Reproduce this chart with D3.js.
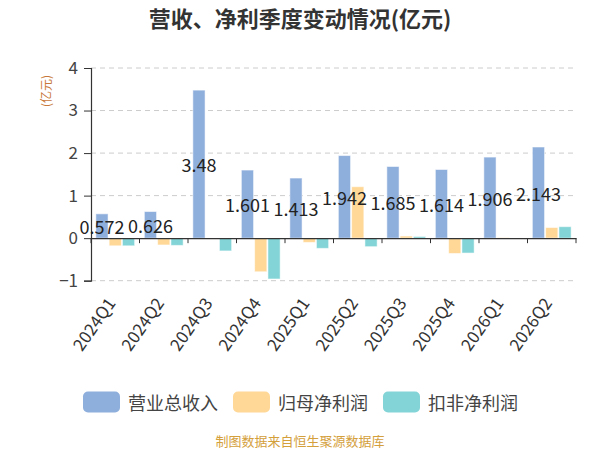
<!DOCTYPE html>
<html>
<head>
<meta charset="utf-8">
<script src="https://cdn.jsdelivr.net/npm/d3@7"></script>
<style>
  body { margin: 0; background: #fff; }
  svg { display: block; font-family: "Noto Sans CJK SC", "Noto Sans", sans-serif; }
</style>
</head>
<body>
<svg id="chart"></svg>
<script>
// Quarterly revenue / net profit bar chart

const WIDTH = 600;
const HEIGHT = 450;

const quarters = ["2024Q1", "2024Q2", "2024Q3", "2024Q4", "2025Q1", "2025Q2", "2025Q3", "2025Q4", "2026Q1", "2026Q2"];
const seriesNames = ["营业总收入", "归母净利润", "扣非净利润"];
const revenue = [0.572, 0.626, 3.48, 1.601, 1.413, 1.942, 1.685, 1.614, 1.906, 2.143];
const netProfit = [-0.18, -0.16, -0.02, -0.79, -0.10, 1.21, 0.05, -0.36, 0.01, 0.25];
const deductedProfit = [-0.18, -0.17, -0.30, -0.96, -0.24, -0.20, 0.04, -0.35, 0.003, 0.27];
const yTicks = [-1, 0, 1, 2, 3, 4];

const seriesValues = [revenue, netProfit, deductedProfit];
const COLORS = ["#8eaedc", "#ffd898", "#83d4d7"];

const margin = { left: 91, right: 24, top: 68, bottom: 169 };

const svg = d3.select("#chart")
    .attr("width", WIDTH)
    .attr("height", HEIGHT);

const x = d3.scaleBand()
    .domain(quarters)
    .range([margin.left, WIDTH - margin.right])
    .paddingInner(0.2)
    .paddingOuter(0.1);

const xInner = d3.scaleBand()
    .domain(d3.range(seriesNames.length))
    .range([0, x.bandwidth()])
    .paddingInner(0.08);

const y = d3.scaleLinear()
    .domain([-1, 4])
    .range([280.7, margin.top]);

// Title
svg.append("text")
    .attr("x", WIDTH / 2)
    .attr("y", 17)
    .attr("text-anchor", "middle")
    .attr("dominant-baseline", "central")
    .attr("font-size", "22px")
    .attr("font-weight", "bold")
    .attr("fill", "#333")
    .text("营收、净利季度变动情况(亿元)");

// Y axis name
svg.append("text")
    .attr("transform", "translate(45, 91) rotate(-90)")
    .attr("text-anchor", "middle")
    .attr("dominant-baseline", "central")
    .attr("font-size", "12px")
    .attr("fill", "#c8783a")
    .text("(亿元)");

// Grid lines
svg.append("g")
    .selectAll("line")
    .data(yTicks.filter(d => d !== 0))
    .join("line")
    .attr("x1", x.range()[0])
    .attr("x2", x.range()[1])
    .attr("y1", d => y(d))
    .attr("y2", d => y(d))
    .attr("stroke", "#ccc")
    .attr("stroke-dasharray", "5,4");

// Y axis
const yAxis = svg.append("g")
    .attr("transform", `translate(${margin.left},0)`)
    .call(d3.axisLeft(y).tickValues(yTicks).tickSize(7).tickPadding(6).tickFormat(d3.format("d")));
yAxis.select(".domain").attr("stroke", "#333").attr("stroke-width", 1.2);
yAxis.selectAll(".tick line").attr("stroke", "#333");
yAxis.selectAll(".tick text")
    .attr("font-family", "Noto Sans CJK SC, Noto Sans, sans-serif")
    .attr("font-size", "17px")
    .attr("fill", "#444");

// Bars
const groups = svg.append("g")
    .selectAll("g")
    .data(quarters)
    .join("g")
    .attr("transform", d => `translate(${x(d)},0)`);

groups.selectAll("rect")
    .data((q, i) => seriesValues.map((vals, s) => ({ s, v: vals[i] })))
    .join("rect")
    .attr("x", d => xInner(d.s))
    .attr("width", xInner.bandwidth())
    .attr("y", d => y(Math.max(0, d.v)))
    .attr("height", d => Math.max(0.6, Math.abs(y(d.v) - y(0))))
    .attr("fill", d => COLORS[d.s])
    .attr("stroke", "rgba(255,255,255,0.55)")
    .attr("stroke-width", 1);

// X axis at zero
const xAxis = svg.append("g")
    .attr("transform", `translate(0,${y(0)})`)
    .call(d3.axisBottom(x).tickSize(0).tickFormat(""));
xAxis.select(".domain").attr("stroke", "#333").attr("stroke-width", 1.2);
xAxis.selectAll(".tick").remove();

// Category boundary ticks
svg.append("g")
    .selectAll("line")
    .data(d3.range(quarters.length + 1))
    .join("line")
    .attr("x1", i => x.range()[0] + i * x.step())
    .attr("x2", i => x.range()[0] + i * x.step())
    .attr("y1", y(0))
    .attr("y2", y(0) + 5)
    .attr("stroke", "#333");

// X labels
svg.append("g")
    .selectAll("text")
    .data(quarters)
    .join("text")
    .attr("transform", d => `translate(${x(d) + x.bandwidth() / 2 - 5}, 299) rotate(-55)`)
    .attr("text-anchor", "end")
    .attr("dominant-baseline", "central")
    .attr("font-size", "17px")
    .attr("fill", "#333")
    .text(d => d);

// Value labels for revenue, centred inside the bar
svg.append("g")
    .selectAll("text")
    .data(revenue)
    .join("text")
    .attr("x", (d, i) => x(quarters[i]) + xInner(0) + xInner.bandwidth() / 2)
    .attr("y", d => y(d / 2))
    .attr("text-anchor", "middle")
    .attr("dominant-baseline", "central")
    .attr("font-size", "18px")
    .attr("fill", "#222")
    .text(d => d);

// Legend
const legendItems = [
    { name: seriesNames[0], x: 83 },
    { name: seriesNames[1], x: 233 },
    { name: seriesNames[2], x: 383 }
];
const legend = svg.append("g")
    .selectAll("g")
    .data(legendItems)
    .join("g")
    .attr("transform", d => `translate(${d.x}, 402)`);
legend.append("rect")
    .attr("x", 0)
    .attr("y", -10.5)
    .attr("width", 37)
    .attr("height", 21)
    .attr("rx", 5)
    .attr("fill", (d, i) => COLORS[i]);
legend.append("text")
    .attr("x", 45)
    .attr("y", 0)
    .attr("dominant-baseline", "central")
    .attr("font-size", "18px")
    .attr("fill", "#444")
    .text(d => d.name);

// Source note
svg.append("text")
    .attr("x", WIDTH / 2)
    .attr("y", 440)
    .attr("text-anchor", "middle")
    .attr("dominant-baseline", "central")
    .attr("font-size", "13px")
    .attr("fill", "#d4a03c")
    .text("制图数据来自恒生聚源数据库");
</script>
</body>
</html>
